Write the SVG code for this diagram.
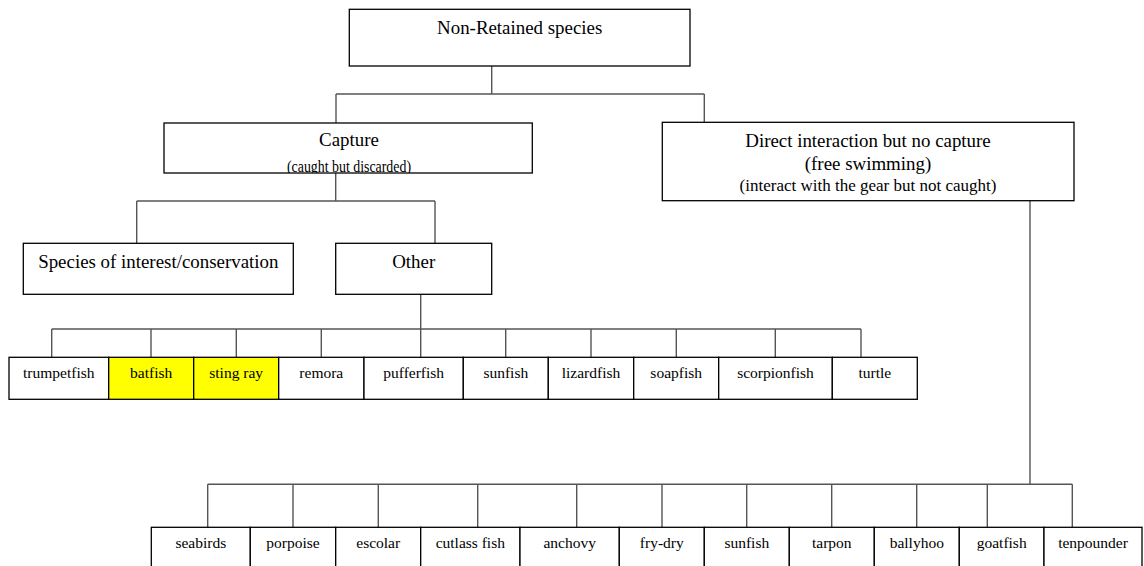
<svg xmlns="http://www.w3.org/2000/svg" width="1144" height="566" viewBox="0 0 1144 566">
  <style>
    .box { fill: #ffffff; stroke: #000000; stroke-width: 1.3; }
    .hl { fill: #ffff00; }
    .wire { fill: none; stroke: #555555; stroke-width: 1.4; }
    text { font-family: "Liberation Serif", "Times New Roman", serif; fill: #000000; text-anchor: middle; }
    .t1 { font-size: 18.9px; }
    .t2 { font-size: 16.5px; }
    .t3 { font-size: 17px; }
    .sp { font-size: 15.5px; }
  </style>
  <defs>
    <clipPath id="captureClip">
      <rect x="164" y="123" width="368.3" height="50"/>
    </clipPath>
  </defs>
  <rect width="1144" height="566" fill="#ffffff"/>

  <!-- connectors -->
  <g id="connectors" class="wire">
    <path d="M491.7 66 V94 M336 94 H704.3 M336 94 V123 M704.3 94 V122.3"/>
    <path d="M335.7 173 V201 M136.7 201 H435 M136.7 201 V243.3 M435 201 V243.3"/>
    <path d="M420.7 294.3 V329 M51.7 329 H861"/>
    <path d="M51.7 329 V357.3 M151 329 V357.3 M236.3 329 V357.3 M321.3 329 V357.3 M420.7 329 V357.3 M505.7 329 V357.3 M591 329 V357.3 M676.3 329 V357.3 M775.3 329 V357.3 M861 329 V357.3"/>
    <path d="M1030 200.7 V484.3 M207.7 484.3 H1072.3"/>
    <path d="M207.7 484.3 V527.3 M293 484.3 V527.3 M378.3 484.3 V527.3 M477.7 484.3 V527.3 M576.7 484.3 V527.3 M662 484.3 V527.3 M746.7 484.3 V527.3 M831.7 484.3 V527.3 M916.7 484.3 V527.3 M987.3 484.3 V527.3 M1072.3 484.3 V527.3"/>
  </g>

  <!-- top level -->
  <g id="root">
    <rect class="box" x="349.3" y="9.3" width="340.7" height="56.7"/>
    <text class="t1" x="519.7" y="34.3">Non-Retained species</text>
  </g>

  <g id="capture">
    <rect class="box" x="164" y="123" width="368.3" height="50"/>
    <text class="t1" x="349" y="146.3">Capture</text>
    <text class="t2" x="349" y="172" textLength="124" lengthAdjust="spacingAndGlyphs" clip-path="url(#captureClip)">(caught but discarded)</text>
  </g>

  <g id="direct">
    <rect class="box" x="662.3" y="122.3" width="411.7" height="78.4"/>
    <text class="t1" x="868" y="147.3">Direct interaction but no capture</text>
    <text class="t1" x="868" y="170">(free swimming)</text>
    <text class="t3" x="868" y="191">(interact with the gear but not caught)</text>
  </g>

  <g id="conservation">
    <rect class="box" x="23.3" y="243.3" width="270" height="51"/>
    <text class="t1" x="158.3" y="268">Species of interest/conservation</text>
  </g>

  <g id="other">
    <rect class="box" x="335.7" y="243.3" width="156" height="51"/>
    <text class="t1" x="413.7" y="268">Other</text>
  </g>

  <!-- discarded species -->
  <g id="trumpetfish">
    <rect class="box" x="9" y="357.3" width="99.7" height="42"/>
    <text class="sp" x="58.8" y="377.7">trumpetfish</text>
  </g>
  <g id="batfish">
    <rect class="box hl" x="108.7" y="357.3" width="85" height="42"/>
    <text class="sp" x="151.2" y="377.7">batfish</text>
  </g>
  <g id="stingray">
    <rect class="box hl" x="193.7" y="357.3" width="85" height="42"/>
    <text class="sp" x="236.2" y="377.7">sting ray</text>
  </g>
  <g id="remora">
    <rect class="box" x="278.7" y="357.3" width="85.3" height="42"/>
    <text class="sp" x="321.3" y="377.7">remora</text>
  </g>
  <g id="pufferfish">
    <rect class="box" x="364" y="357.3" width="99.3" height="42"/>
    <text class="sp" x="413.7" y="377.7">pufferfish</text>
  </g>
  <g id="sunfish1">
    <rect class="box" x="463.3" y="357.3" width="85" height="42"/>
    <text class="sp" x="505.8" y="377.7">sunfish</text>
  </g>
  <g id="lizardfish">
    <rect class="box" x="548.3" y="357.3" width="85.4" height="42"/>
    <text class="sp" x="591" y="377.7">lizardfish</text>
  </g>
  <g id="soapfish">
    <rect class="box" x="633.7" y="357.3" width="85" height="42"/>
    <text class="sp" x="676.2" y="377.7">soapfish</text>
  </g>
  <g id="scorpionfish">
    <rect class="box" x="718.7" y="357.3" width="113.6" height="42"/>
    <text class="sp" x="775.5" y="377.7">scorpionfish</text>
  </g>
  <g id="turtle">
    <rect class="box" x="832.3" y="357.3" width="85" height="42"/>
    <text class="sp" x="874.8" y="377.7">turtle</text>
  </g>

  <!-- free swimming species -->
  <g id="seabirds">
    <rect class="box" x="151.3" y="527.3" width="99" height="50"/>
    <text class="sp" x="200.8" y="547.5">seabirds</text>
  </g>
  <g id="porpoise">
    <rect class="box" x="250.3" y="527.3" width="85.4" height="50"/>
    <text class="sp" x="293" y="547.5">porpoise</text>
  </g>
  <g id="escolar">
    <rect class="box" x="335.7" y="527.3" width="85" height="50"/>
    <text class="sp" x="378.2" y="547.5">escolar</text>
  </g>
  <g id="cutlassfish">
    <rect class="box" x="420.7" y="527.3" width="99.3" height="50"/>
    <text class="sp" x="470.3" y="547.5">cutlass fish</text>
  </g>
  <g id="anchovy">
    <rect class="box" x="520" y="527.3" width="99.3" height="50"/>
    <text class="sp" x="569.7" y="547.5">anchovy</text>
  </g>
  <g id="frydry">
    <rect class="box" x="619.3" y="527.3" width="85" height="50"/>
    <text class="sp" x="661.8" y="547.5">fry-dry</text>
  </g>
  <g id="sunfish2">
    <rect class="box" x="704.3" y="527.3" width="85" height="50"/>
    <text class="sp" x="746.8" y="547.5">sunfish</text>
  </g>
  <g id="tarpon">
    <rect class="box" x="789.3" y="527.3" width="85" height="50"/>
    <text class="sp" x="831.8" y="547.5">tarpon</text>
  </g>
  <g id="ballyhoo">
    <rect class="box" x="874.3" y="527.3" width="85" height="50"/>
    <text class="sp" x="916.8" y="547.5">ballyhoo</text>
  </g>
  <g id="goatfish">
    <rect class="box" x="959.3" y="527.3" width="84.7" height="50"/>
    <text class="sp" x="1001.7" y="547.5">goatfish</text>
  </g>
  <g id="tenpounder">
    <rect class="box" x="1044" y="527.3" width="98" height="50"/>
    <text class="sp" x="1093" y="547.5">tenpounder</text>
  </g>
</svg>
